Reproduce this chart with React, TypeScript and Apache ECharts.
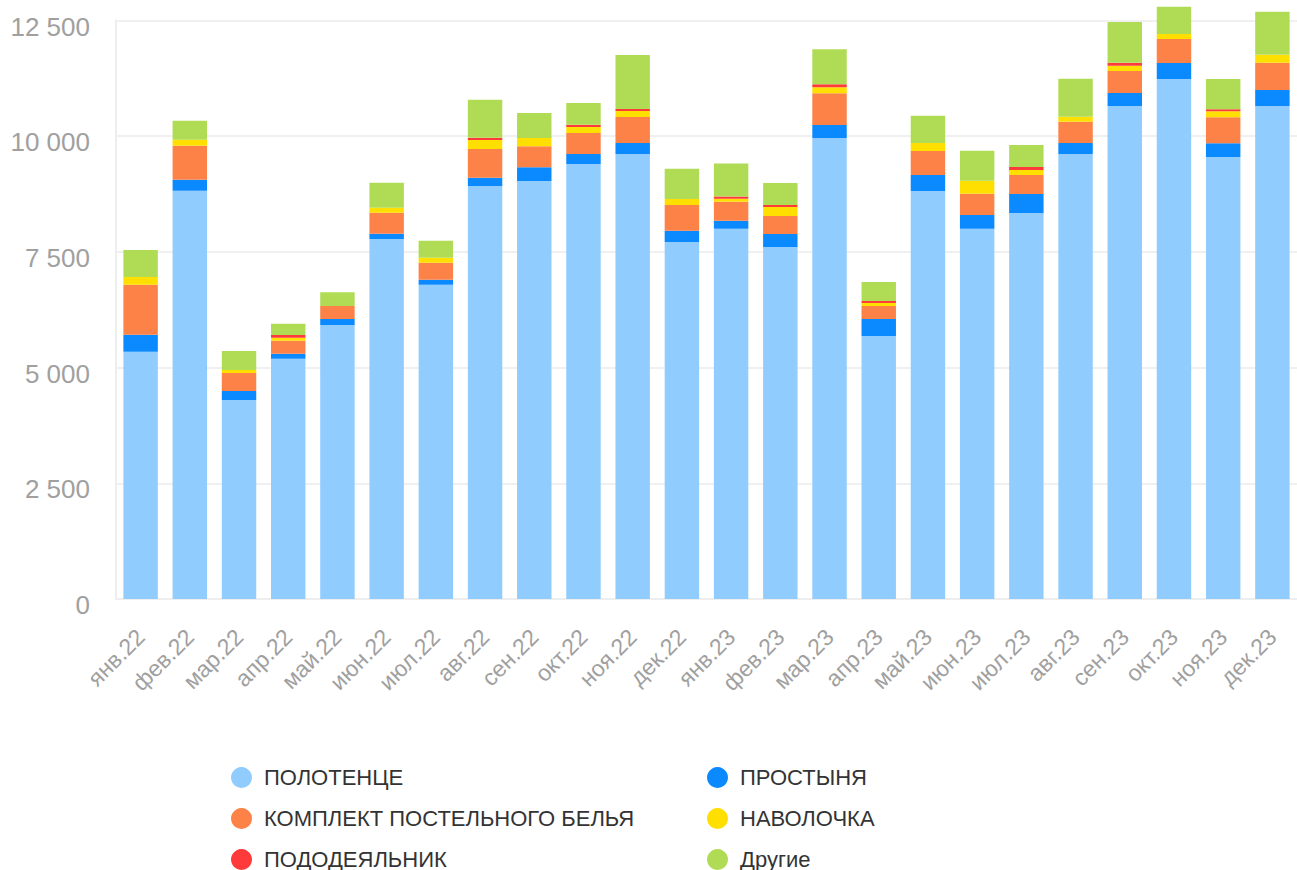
import React, { useEffect, useRef } from "react";
import * as echarts from "echarts";

const categories = [
  "янв.22", "фев.22", "мар.22", "апр.22", "май.22", "июн.22", "июл.22", "авг.22",
  "сен.22", "окт.22", "ноя.22", "дек.22", "янв.23", "фев.23", "мар.23", "апр.23",
  "май.23", "июн.23", "июл.23", "авг.23", "сен.23", "окт.23", "ноя.23", "дек.23",
];

const polotence = [5340, 8820, 4300, 5190, 5920, 7780, 6790, 8925, 9030, 9400, 9615, 7715, 8000, 7605, 9960, 5685, 8815, 8000, 8340, 9615, 10655, 11235, 9550, 10655];
const prostynya = [370, 240, 195, 110, 130, 110, 110, 175, 300, 215, 240, 240, 175, 280, 280, 365, 345, 300, 410, 240, 280, 345, 300, 345];
const komplekt = [1080, 735, 390, 280, 280, 455, 365, 625, 455, 455, 560, 560, 410, 390, 690, 280, 520, 455, 410, 455, 475, 520, 560, 585];
const navolochka = [170, 130, 65, 65, 0, 110, 110, 195, 175, 130, 130, 130, 65, 195, 130, 65, 175, 280, 110, 110, 110, 110, 130, 175];
const pododeyalnik = [0, 0, 0, 60, 0, 0, 0, 45, 0, 45, 45, 0, 45, 45, 65, 45, 0, 0, 65, 0, 65, 0, 45, 0];
const drugie = [580, 410, 410, 240, 300, 540, 365, 820, 540, 475, 1165, 650, 715, 475, 755, 410, 585, 650, 475, 820, 885, 585, 650, 930];

const yTicks = [0, 2500, 5000, 7500, 10000, 12500];

const seriesDefs = [
  { name: "ПОЛОТЕНЦЕ", data: polotence, color: "#90CDFE" },
  { name: "ПРОСТЫНЯ", data: prostynya, color: "#0B89FF" },
  { name: "КОМПЛЕКТ ПОСТЕЛЬНОГО БЕЛЬЯ", data: komplekt, color: "#FC8248" },
  { name: "НАВОЛОЧКА", data: navolochka, color: "#FFDF00" },
  { name: "ПОДОДЕЯЛЬНИК", data: pododeyalnik, color: "#FF3A3A" },
  { name: "Другие", data: drugie, color: "#B0DC55" },
];

const FONT = "'Liberation Sans', Arial, Helvetica, sans-serif";

export default function App() {
  const ref = useRef<HTMLDivElement>(null);

  useEffect(() => {
    if (!ref.current) return;
    const chart = echarts.init(ref.current, undefined, { renderer: "svg" });
    const legendCommon = {
      orient: "vertical" as const,
      icon: "circle",
      itemWidth: 35,
      itemHeight: 21,
      itemGap: 19,
      padding: 0,
      height: 110,
      symbolKeepAspect: true,
      textStyle: { fontSize: 22, color: "#333", fontFamily: FONT },
      selectedMode: false,
    };
    chart.setOption({
      animation: false,
      textStyle: { fontFamily: FONT },
      grid: { left: 116, top: 20.5, width: 1188, height: 578.5, containLabel: false },
      legend: [
        { ...legendCommon, left: 231, top: 766.5, data: ["ПОЛОТЕНЦЕ", "КОМПЛЕКТ ПОСТЕЛЬНОГО БЕЛЬЯ", "ПОДОДЕЯЛЬНИК"] },
        { ...legendCommon, left: 707, top: 766.5, data: ["ПРОСТЫНЯ", "НАВОЛОЧКА", "Другие"] },
      ],
      xAxis: {
        type: "category",
        data: categories,
        axisLine: { show: true, lineStyle: { color: "#eeeeee", width: 2 } },
        axisTick: { show: false },
        axisLabel: {
          rotate: 45,
          margin: 34,
          fontSize: 23,
          color: "#a0a0a0",
          fontFamily: FONT,
          interval: 0,
        },
      },
      yAxis: {
        type: "value",
        min: yTicks[0],
        max: yTicks[yTicks.length - 1],
        interval: 2500,
        axisLine: { show: true, lineStyle: { color: "#eeeeee", width: 2 } },
        axisTick: { show: false },
        splitLine: { show: true, lineStyle: { color: "#f0f0f0", width: 2 } },
        axisLabel: {
          fontSize: 26,
          color: "#a0a0a0",
          margin: 26,
          fontFamily: FONT,
          formatter: (v: number) => "{a|" + String(v).replace(/\B(?=(\d{3})+(?!\d))/g, " ") + "}",
          rich: {
            a: { fontSize: 26, color: "#a0a0a0", fontFamily: FONT, padding: [12, 0, 0, 0] },
          },
        },
      },
      series: seriesDefs.map((s) => ({
        name: s.name,
        type: "bar",
        stack: "total",
        data: s.data,
        barWidth: "70%",
        clip: false,
        itemStyle: { color: s.color },
        emphasis: { disabled: true },
      })),
    });
    return () => chart.dispose();
  }, []);

  return (
    <div
      ref={ref}
      style={{ position: "fixed", left: 0, top: 0, width: 1297, height: 870, background: "#fff" }}
    />
  );
}
